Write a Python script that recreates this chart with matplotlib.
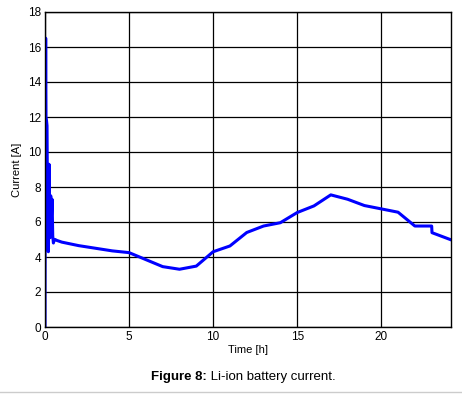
import matplotlib.pyplot as plt
from matplotlib.lines import Line2D

plt.rcParams['font.family'] = ['Liberation Sans', 'DejaVu Sans']

# time [h] and current [A]
time_h = [0.0, 0.0, 0.02, 0.04, 0.06, 0.09, 0.12, 0.16, 0.2, 0.24, 0.3, 0.34,
          0.38, 0.42, 0.46, 0.5, 0.55, 0.6, 0.7, 1.0, 1.5, 2.0, 3.0, 4.0, 5.0,
          6.0, 7.0, 8.0, 9.0, 10.0, 11.0, 12.0, 13.0, 14.0, 15.0, 16.0, 17.0,
          18.0, 19.0, 20.0, 21.0, 22.0, 23.0, 23.02, 24.1]
current_a = [0.0, 2.2, 11.5, 16.5, 12.0, 11.8, 11.5, 5.1, 4.3, 9.3, 5.1, 7.5,
             6.2, 7.3, 5.2, 4.8, 5.0, 5.0, 4.95, 4.85, 4.75, 4.65, 4.5, 4.35,
             4.25, 3.85, 3.45, 3.3, 3.48, 4.3, 4.63, 5.4, 5.77, 5.96, 6.54,
             6.92, 7.55, 7.3, 6.94, 6.75, 6.56, 5.77, 5.77, 5.39, 5.0]

fig = plt.figure(figsize=(4.62, 3.94), dpi=100)
ax = fig.add_axes([45 / 462, 1 - 327 / 394, 406 / 462, 315 / 394])

ax.plot(time_h, current_a, color='#0000ff', linewidth=2.2)

ax.set_xlim(0, 24.15)
ax.set_ylim(0, 18)
ax.set_xticks([0, 5, 10, 15, 20])
ax.set_yticks(range(0, 19, 2))
ax.grid(True, color='black', linewidth=0.9)
ax.set_axisbelow(True)
ax.tick_params(length=0, labelsize=8.5, pad=3)
for s in ax.spines.values():
    s.set_linewidth(1)

ax.set_xlabel('Time [h]', fontsize=8, labelpad=1)
ax.set_ylabel('Current [A]', fontsize=8, labelpad=4)

# caption: bold prefix + normal text, centred together
y_cap = 1 - 377 / 394
t1 = fig.text(0, y_cap, 'Figure 8:', fontsize=9.5, fontweight='bold', ha='left', va='center')
t2 = fig.text(0, y_cap, ' Li-ion battery current.', fontsize=9.5, ha='left', va='center')
r = fig.canvas.get_renderer()
w1 = t1.get_window_extent(r).width / fig.bbox.width
w2 = t2.get_window_extent(r).width / fig.bbox.width
x0 = 243 / 462 - (w1 + w2) / 2
t1.set_x(x0)
t2.set_x(x0 + w1)

fig.add_artist(Line2D([0, 1], [1 - 392 / 394] * 2, color='#cccccc', linewidth=1))

fig.savefig('out.png', dpi=100)
